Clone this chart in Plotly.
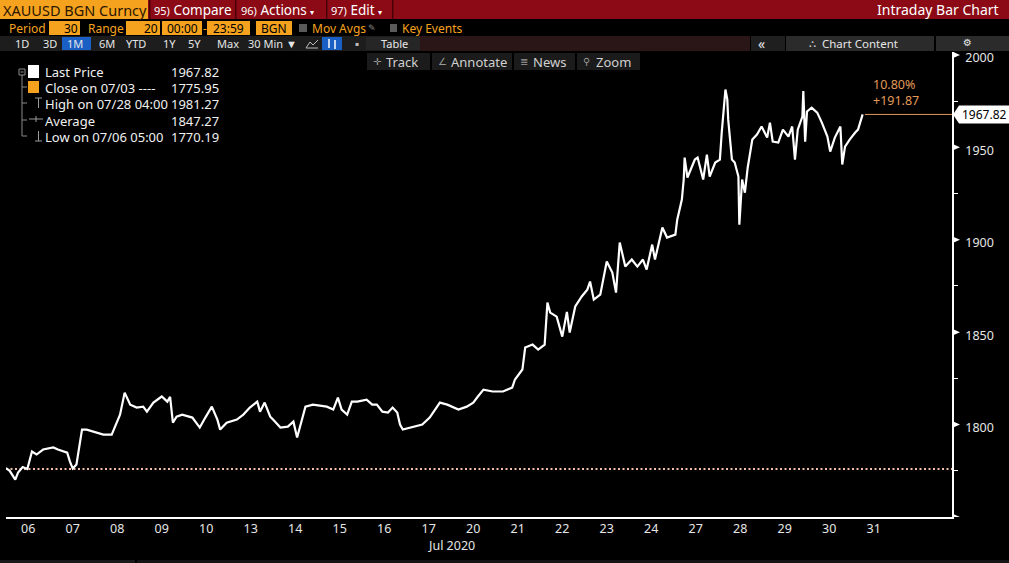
import plotly.graph_objects as go

W, H = 1009, 563
FONT = "Noto Sans"
SYM = "DejaVu Sans"
ORANGE = "#F5A31E"
RED = "#8C0A15"

# ---------------- data ----------------
trade_days = ["07/06", "07/07", "07/08", "07/09", "07/10", "07/13", "07/14", "07/15", "07/16", "07/17",
              "07/20", "07/21", "07/22", "07/23", "07/24", "07/27", "07/28", "07/29", "07/30", "07/31"]
tick_labels = [d[3:] for d in trade_days]

times = [
    "07/06 00:00", "07/06 02:00", "07/06 05:00", "07/06 06:30", "07/06 09:00", "07/06 11:30", "07/06 14:00",
    "07/06 16:30", "07/06 20:00",
    "07/07 01:30", "07/07 04:00", "07/07 09:00", "07/07 10:30", "07/07 12:00", "07/07 14:00", "07/07 15:30",
    "07/07 17:00", "07/07 19:30",
    "07/08 01:00", "07/08 04:30", "07/08 09:00", "07/08 11:00", "07/08 13:30", "07/08 16:00", "07/08 19:00",
    "07/08 22:30",
    "07/09 02:00", "07/09 04:00", "07/09 07:30", "07/09 12:00", "07/09 15:00", "07/09 16:30", "07/09 18:00",
    "07/09 20:00", "07/09 23:00",
    "07/10 04:30", "07/10 08:30", "07/10 11:30", "07/10 15:00", "07/10 18:00", "07/10 19:30", "07/10 23:00",
    "07/13 04:30", "07/13 08:00", "07/13 11:30", "07/13 15:30", "07/13 17:00", "07/13 19:30", "07/13 22:30",
    "07/14 00:00", "07/14 04:00", "07/14 08:00", "07/14 11:00", "07/14 13:00", "07/14 15:30", "07/14 17:30",
    "07/14 21:30",
    "07/15 05:00", "07/15 08:30", "07/15 11:00", "07/15 13:00", "07/15 16:00", "07/15 18:30", "07/15 21:30",
    "07/16 02:30", "07/16 05:30", "07/16 08:00", "07/16 11:00", "07/16 14:00", "07/16 16:30", "07/16 19:00",
    "07/16 20:30", "07/16 22:00",
    "07/17 03:30", "07/17 08:30", "07/17 12:30", "07/17 18:00", "07/17 22:00",
    "07/20 04:00", "07/20 08:30", "07/20 12:00", "07/20 14:30", "07/20 17:30", "07/20 22:30",
    "07/21 04:00", "07/21 09:00", "07/21 10:30", "07/21 14:30", "07/21 16:00", "07/21 20:00", "07/21 23:00",
    "07/22 02:30", "07/22 04:00", "07/22 05:30", "07/22 09:00", "07/22 12:00", "07/22 14:30", "07/22 16:00",
    "07/22 19:00", "07/22 22:30",
    "07/23 01:30", "07/23 03:00", "07/23 05:00", "07/23 08:30", "07/23 12:00", "07/23 15:00", "07/23 17:00",
    "07/23 19:00", "07/23 22:00",
    "07/24 01:30", "07/24 04:30", "07/24 07:30", "07/24 09:30", "07/24 12:30", "07/24 14:00", "07/24 18:00",
    "07/24 20:30",
    "07/27 01:00", "07/27 02:00", "07/27 04:30", "07/27 05:30", "07/27 06:00", "07/27 07:30", "07/27 11:30",
    "07/27 13:00", "07/27 16:00", "07/27 18:00", "07/27 19:30", "07/27 22:30",
    "07/28 01:00", "07/28 02:00", "07/28 04:00", "07/28 05:00", "07/28 05:30", "07/28 06:30", "07/28 07:30",
    "07/28 09:00", "07/28 11:00", "07/28 11:30", "07/28 13:00", "07/28 14:30", "07/28 16:00", "07/28 18:30",
    "07/28 21:00", "07/28 23:30",
    "07/29 02:30", "07/29 04:00", "07/29 05:30", "07/29 08:30", "07/29 11:00", "07/29 14:00", "07/29 16:00",
    "07/29 17:30", "07/29 19:00", "07/29 21:30", "07/29 22:00", "07/29 23:00",
    "07/30 00:00", "07/30 02:30", "07/30 05:30", "07/30 08:00", "07/30 11:00", "07/30 12:30", "07/30 15:00",
    "07/30 18:00", "07/30 19:00", "07/30 20:30", "07/30 23:00",
    "07/31 02:00", "07/31 03:30", "07/31 06:00",
]
prices = [
    1776.5, 1775.0, 1770.2, 1774.0, 1777.0, 1776.0, 1785.4, 1783.8, 1786.5,
    1787.6, 1786.5, 1784.8, 1780.0, 1776.2, 1778.4, 1788.0, 1797.3, 1797.3,
    1795.7, 1794.6, 1794.6, 1799.0, 1805.4, 1817.3, 1810.8, 1809.2,
    1809.7, 1807.0, 1811.9, 1815.2, 1812.4, 1815.0, 1801.0, 1804.3, 1805.4,
    1803.8, 1798.4, 1803.8, 1809.7, 1802.7, 1797.3, 1801.0,
    1802.7, 1805.4, 1809.2, 1812.4, 1807.0, 1811.9, 1804.3,
    1802.7, 1798.4, 1798.9, 1801.6, 1793.0, 1802.7, 1809.7, 1810.8,
    1809.7, 1808.1, 1814.6, 1808.1, 1805.4, 1812.4, 1812.4,
    1813.5, 1810.8, 1810.8, 1807.0, 1806.5, 1809.2, 1806.5, 1800.0, 1797.3,
    1798.9, 1800.0, 1803.8, 1811.9, 1810.8,
    1808.1, 1809.7, 1811.9, 1815.2, 1818.9, 1817.9,
    1817.9, 1820.0, 1824.4, 1829.8, 1841.7, 1843.3, 1840.6,
    1843.3, 1866.0, 1860.6, 1858.4, 1847.6, 1861.0, 1849.8, 1863.9, 1869.3,
    1873.0, 1877.4, 1867.6, 1870.3, 1888.2, 1882.3, 1871.4, 1898.5, 1885.5,
    1889.3, 1885.5, 1889.3, 1883.9, 1897.4, 1889.3, 1906.6, 1901.2,
    1902.8, 1910.9, 1921.8, 1932.6, 1944.5, 1933.7, 1943.4, 1944.5, 1932.6, 1946.1, 1934.2, 1941.8,
    1943.4, 1958.0, 1981.27, 1975.9, 1965.0, 1954.2, 1943.4, 1941.8, 1934.2, 1908.2, 1932.6, 1925.5,
    1939.0, 1954.2, 1956.9, 1961.3,
    1955.3, 1963.4, 1953.1, 1952.6, 1959.6, 1955.8, 1961.3, 1943.4, 1959.6, 1966.7, 1980.5, 1953.1,
    1969.4, 1971.5, 1968.8, 1963.4, 1955.8, 1947.7, 1955.3, 1961.3, 1940.7, 1950.4, 1954.2,
    1958.0, 1959.6, 1967.82,
]

prev_close = 1775.95
legend_labels = ["Last Price", "Close on 07/03 ----", "High on 07/28 04:00", "Average", "Low on 07/06 05:00"]
legend_values = [1967.82, 1775.95, 1981.27, 1847.27, 1770.19]
y_ticks = [1800, 1850, 1900, 1950, 2000]
y_minor = [1775, 1825, 1875, 1925, 1975]
y_tri = [1750, 1800, 1850, 1900, 1950, 2000]
y_range = [1750, 2001.6]
x_range = [0, 21.258]


def to_t(s):
    d, hm = s.split(" ")
    h, m = hm.split(":")
    return trade_days.index(d) + (int(h) + int(m) / 60) / 24


t = [to_t(s) for s in times]
last = prices[-1]
chg = last - prev_close
pct = chg / prev_close * 100


def X(px):
    return px / W


def Y(py):
    return 1 - py / H


shapes = []
ann = []


def rect(x0, y0, x1, y1, fill):
    shapes.append(dict(type="rect", xref="paper", yref="paper", x0=X(x0), x1=X(x1), y0=Y(y1), y1=Y(y0),
                       fillcolor=fill, line=dict(width=0), layer="above"))


def seg(x0, y0, x1, y1, color, w=1):
    shapes.append(dict(type="line", xref="paper", yref="paper", x0=X(x0), x1=X(x1), y0=Y(y0), y1=Y(y1),
                       line=dict(color=color, width=w), layer="above"))


def text(px, py, s, color, size, anchor="left", family=FONT):
    ann.append(dict(xref="paper", yref="paper", x=X(px), y=Y(py), text=s, showarrow=False,
                    xanchor=anchor, yanchor="middle", borderpad=0,
                    font=dict(color=color, size=size, family=family)))


# ---- header row 1 ----
rect(0, 0, W, 19, RED)
rect(0, 0, 148, 19, ORANGE)
text(2, 10, "XAUUSD BGN Curncy", "#2b1600", 14.5)
for sx in [149, 235, 326, 392]:
    rect(sx, 0, sx + 1.5, 19, "#4a0008")
text(153, 10, "<span style='font-size:11px'>95)</span> Compare", "#ffffff", 13.5)
text(240, 10, "<span style='font-size:11px'>96)</span> Actions <span style='font-size:8px'>▾</span>",
     "#ffffff", 13.5)
text(330, 10, "<span style='font-size:11px'>97)</span> Edit <span style='font-size:8px'>▾</span>",
     "#ffffff", 13.5)
text(1000, 10, "Intraday Bar Chart", "#ffffff", 14, anchor="right")

# ---- row 2 ----
R2 = 12
text(8, 28, "Period", ORANGE, R2)
rect(49, 21, 80, 35, ORANGE)
text(79, 28, "30", "#000000", R2, anchor="right")
text(87, 28, "Range", ORANGE, R2)
rect(126, 21, 160, 35, ORANGE)
text(159, 28, "20", "#000000", R2, anchor="right")
rect(162, 21, 202, 35, ORANGE)
text(182, 28, "00:00", "#000000", R2, anchor="center")
text(204.5, 28, "-", ORANGE, R2, anchor="center")
rect(207, 21, 250, 35, ORANGE)
text(228.5, 28, "23:59", "#000000", R2, anchor="center")
rect(256, 21, 292, 35, ORANGE)
text(274, 28, "BGN", "#000000", R2, anchor="center")
rect(299, 24, 307, 32, "#5a5a5a")
text(311, 28, "Mov Avgs", ORANGE, R2)
text(367, 28, "✎", "#8a8a8a", 9, family=SYM)
rect(390, 24, 397, 32, "#5a5a5a")
text(401, 28, "Key Events", ORANGE, R2)

# ---- row 3 ----
rect(0, 36, 420, 51, "#1d1d1d")
rect(420, 36, 750, 51, "#2a1517")
rect(751, 36, 785, 51, "#1f1f1f")
rect(786, 36, 934, 51, "#2b2b2b")
rect(936, 36, W, 51, "#2b2b2b")
rect(62, 37, 91, 50, "#1a5fc4")
rect(322, 37, 342, 50, "#1a5fc4")
rect(366, 37, 420, 50, "#262626")
for lbl, px in [("1D", 14), ("3D", 42), ("1M", 66), ("6M", 98), ("YTD", 125), ("1Y", 162), ("5Y", 187),
                ("Max", 216), ("30 Min ▼", 247), ("Table", 380)]:
    text(px, 43.5, lbl, "#e6e6e6", 11)
shapes.append(dict(type="path", xref="paper", yref="paper",
                   path=f"M{X(306)},{Y(48)} L{X(310)},{Y(42)} L{X(313)},{Y(45)} L{X(318)},{Y(40)}",
                   line=dict(color="#bbbbbb", width=1), layer="above"))
seg(306, 48, 318, 48, "#bbbbbb", 1)
seg(329, 39, 329, 48, "#ffffff", 1.5)
seg(335, 40, 335, 49, "#ffffff", 1.5)
text(357, 43.5, "▪", "#bbbbbb", 6, anchor="center", family=SYM)
text(757, 43.5, "«", "#e6e6e6", 14)
text(808, 43.5, "⛬", "#cccccc", 10, family=SYM)
text(821, 43.5, "Chart Content", "#e6e6e6", 11.5)
text(967, 42.5, "⚙", "#e6e6e6", 10, anchor="center", family=SYM)

# ---- row 4 toolbar ----
for x0, x1, lbl, sym in [(367, 430, "Track", "✛"), (432, 512, "Annotate", "∠"), (514, 575, "News", "≣"),
                         (577, 640, "Zoom", "⚲")]:
    rect(x0, 53, x1, 70, "#1b1b1b")
    text(x0 + 5, 61.5, sym, "#9a9a9a", 10, family=SYM)
    text(x0 + 18, 61.5, lbl, "#d0d0d0", 13)

# ---- legend block ----
tree = "#8a8a8a"
shapes.append(dict(type="rect", xref="paper", yref="paper", x0=X(19), x1=X(25), y0=Y(75), y1=Y(69),
                   line=dict(color=tree, width=1), fillcolor="black", layer="above"))
seg(20.5, 72, 23.5, 72, tree)
seg(22, 75, 22, 136, tree)
for ry in [87, 103, 120, 136]:
    seg(22, ry, 27, ry, tree)
rect(28, 65, 39, 78, "#ffffff")
rect(28, 81, 39, 93, ORANGE)
seg(35, 98, 42, 98, "#9a9a9a")
seg(38.5, 98, 38.5, 108, "#9a9a9a")
seg(29, 119, 43, 119, "#9a9a9a")
seg(36, 116, 36, 122, "#9a9a9a")
seg(38.5, 131, 38.5, 141, "#9a9a9a")
seg(35, 141, 42, 141, "#9a9a9a")
for i, (lbl, val) in enumerate(zip(legend_labels, legend_values)):
    ry = 72 + i * 16.2
    text(44, ry, lbl, "#f0f0f0", 13)
    text(220, ry, f"{val:.2f}", "#f0f0f0", 13, anchor="right")

# ---- bottom strip ----
rect(0, 560, 135, H, "#1a1a1a")
rect(137, 560, W, H, "#141414")

# ---- chart shapes (data referenced) ----
shapes.append(dict(type="line", xref="x", yref="y", x0=x_range[0], x1=x_range[1], y0=prev_close,
                   y1=prev_close, line=dict(color="#F2BFA5", width=2, dash="2px,2.5px"), layer="below"))
shapes.append(dict(type="line", xref="x", yref="y", x0=t[-1] + 0.05, x1=x_range[1], y0=last, y1=last,
                   line=dict(color="#E39A5A", width=1), layer="below"))
for v in y_tri:
    shapes.append(dict(type="path", xref="paper", yref="y", xsizemode="pixel", ysizemode="pixel",
                       xanchor=952 / W, yanchor=v, path="M0,-3.5 L8,0 L0,3.5 Z",
                       fillcolor="white", line=dict(width=0), layer="above"))
shapes.append(dict(type="path", xref="paper", yref="y", xsizemode="pixel", ysizemode="pixel",
                   xanchor=952 / W, yanchor=last, path="M1,0 L7,9 L57,9 L57,-9 L7,-9 Z",
                   fillcolor="white", line=dict(width=0), layer="above"))
ann.append(dict(xref="paper", yref="y", x=960 / W, y=last, text=f"{last:.2f}", showarrow=False,
                xanchor="left", yanchor="middle", font=dict(color="#000000", size=12, family=FONT)))
ann.append(dict(xref="x", yref="y", x=t[-1], y=last, xshift=8, yshift=3, xanchor="left", yanchor="bottom",
                text=f"{pct:.2f}%<br>+{chg:.2f}", align="left", showarrow=False,
                font=dict(color="#E39A5A", size=12.5, family=FONT)))
ann.append(dict(xref="x", yref="paper", x=(trade_days.index("07/17") + trade_days.index("07/20")) / 2 + 0.5,
                y=Y(545), text="Jul 2020", showarrow=False, xanchor="center", yanchor="middle",
                font=dict(color="#e6e6e6", size=12.5, family=FONT)))

fig = go.Figure()
fig.add_trace(go.Scatter(x=t, y=prices, mode="lines", line=dict(color="#ffffff", width=2.2),
                         hoverinfo="skip"))

fig.update_layout(
    width=W, height=H, margin=dict(l=0, r=0, t=0, b=0, autoexpand=False),
    paper_bgcolor="#000000", plot_bgcolor="#000000", showlegend=False,
    font=dict(family=FONT, color="#e6e6e6"),
    xaxis=dict(domain=[6 / W, 952 / W], range=x_range, showgrid=False, zeroline=False,
               showline=True, linecolor="#ffffff", linewidth=1.5, ticks="",
               tickmode="array", tickvals=[i + 0.5 for i in range(len(trade_days))], ticktext=tick_labels,
               tickfont=dict(size=12.5, color="#e6e6e6", family=FONT), ticklabelstandoff=-1,
               automargin=False, fixedrange=True),
    yaxis=dict(domain=[Y(517), Y(52)], range=y_range, side="right", showgrid=False, zeroline=False,
               showline=True, linecolor="#ffffff", linewidth=1.5, ticks="",
               tickmode="array", tickvals=y_ticks,
               tickfont=dict(size=12.5, color="#e6e6e6", family=FONT), ticklabelstandoff=9,
               ticklabelshift=3,
               minor=dict(tickmode="array", tickvals=y_minor, ticks="outside", ticklen=4,
                          tickcolor="#ffffff", tickwidth=1),
               automargin=False, fixedrange=True),
    shapes=shapes, annotations=ann,
)

fig.write_html("out.html", config={"displayModeBar": False},
               post_script="document.body.style.margin='0';")
